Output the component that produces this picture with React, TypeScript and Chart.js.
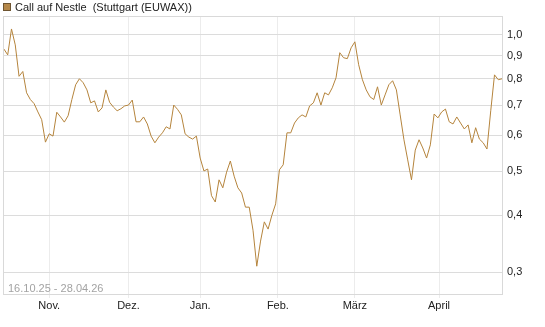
import React, { useEffect, useRef } from "react";
import { Chart, registerables } from "chart.js";

Chart.register(...registerables);

const title = "Call auf Nestle  (Stuttgart (EUWAX))";
const dateRange = "16.10.25 - 28.04.26";

// daily closing values (one per trading day, 16.10.25 – 28.04.26)
const prices: number[] = [
  0.93, 0.903, 1.03, 0.95, 0.81, 0.83, 0.745, 0.72, 0.705, 0.676,
  0.65, 0.58, 0.605, 0.598, 0.675, 0.659, 0.642, 0.663, 0.72, 0.776,
  0.8, 0.784, 0.756, 0.708, 0.715, 0.676, 0.69, 0.756, 0.71, 0.693,
  0.68, 0.687, 0.697, 0.7, 0.718, 0.643, 0.643, 0.659, 0.636, 0.598,
  0.578, 0.595, 0.608, 0.627, 0.62, 0.7, 0.685, 0.666, 0.605, 0.595,
  0.589, 0.598, 0.535, 0.501, 0.506, 0.442, 0.428, 0.479, 0.46, 0.498,
  0.527, 0.488, 0.46, 0.448, 0.417, 0.417, 0.371, 0.309, 0.351, 0.387,
  0.373, 0.4, 0.424, 0.504, 0.517, 0.608, 0.608, 0.639, 0.656, 0.666,
  0.659, 0.697, 0.708, 0.745, 0.7, 0.745, 0.737, 0.764, 0.804, 0.913,
  0.89, 0.886, 0.936, 0.965, 0.859, 0.796, 0.756, 0.73, 0.72, 0.768,
  0.7, 0.737, 0.776, 0.792, 0.756, 0.666, 0.587, 0.53, 0.479, 0.557,
  0.587, 0.563, 0.535, 0.572, 0.669, 0.656, 0.676, 0.686, 0.643, 0.636,
  0.659, 0.639, 0.62, 0.633, 0.578, 0.624, 0.589, 0.578, 0.56, 0.68,
  0.816, 0.796, 0.8,
];

const monthLabels = ["Nov.", "Dez.", "Jan.", "Feb.", "März", "April"];
const monthIndex = [12, 33, 52, 72.6, 93, 115.3];
const yTicks = [0.3, 0.4, 0.5, 0.6, 0.7, 0.8, 0.9, 1.0];

const FONT = "'Liberation Sans', Arial, sans-serif";
const LINE = "#b5843c";

export default function App() {
  const ref = useRef<HTMLCanvasElement | null>(null);

  useEffect(() => {
    if (!ref.current) return;
    const points = prices.map((v, i) => ({ x: i, y: v }));

    const overlay = {
      id: "overlay",
      afterDraw(chart: any) {
        const ctx = chart.ctx;
        const area = chart.chartArea;
        ctx.save();
        // legend
        ctx.fillStyle = "#b5884a";
        ctx.fillRect(3, 3, 8, 8);
        ctx.strokeStyle = "#6e5532";
        ctx.lineWidth = 1;
        ctx.strokeRect(3.5, 3.5, 7, 7);
        ctx.fillStyle = "#222";
        ctx.font = "11px " + FONT;
        ctx.textBaseline = "middle";
        ctx.textAlign = "left";
        ctx.fillText(title, 15, 7.5);
        // date range
        ctx.fillStyle = "#a3a3a3";
        ctx.font = "11px " + FONT;
        ctx.textBaseline = "alphabetic";
        ctx.fillText(dateRange, 8, area.bottom - 3);
        // frame
        ctx.strokeStyle = "#d9d9d9";
        ctx.strokeRect(area.left + 0.5, area.top + 0.5, area.right - area.left - 1, area.bottom - area.top - 1);
        ctx.restore();
      },
    };

    const chart = new Chart(ref.current, {
      type: "line",
      data: {
        datasets: [
          {
            label: title,
            data: points,
            borderColor: LINE,
            borderWidth: 1,
            pointRadius: 0,
            tension: 0,
            fill: false,
          },
        ],
      },
      options: {
        animation: false,
        responsive: false,
        maintainAspectRatio: false,
        layout: { padding: { left: 3, top: 16, right: 0, bottom: 0 } },
        plugins: { legend: { display: false }, tooltip: { enabled: false } },
        scales: {
          x: {
            type: "linear",
            min: -0.25,
            max: prices.length - 0.75,
            afterBuildTicks: (scale: any) => {
              scale.ticks = monthIndex.map((v) => ({ value: v }));
            },
            afterFit: (scale: any) => {
              scale.height = 32;
            },
            ticks: {
              autoSkip: false,
              maxRotation: 0,
              padding: 1,
              color: "#222",
              font: { family: FONT, size: 11 },
              callback: (_v: any, i: number) => monthLabels[i],
            },
            grid: { color: "#ececec", tickLength: 3, drawTicks: true },
            border: { display: false },
          },
          y: {
            type: "logarithmic",
            position: "right",
            min: 0.267,
            max: 1.1,
            afterBuildTicks: (scale: any) => {
              scale.ticks = yTicks.map((v) => ({ value: v }));
            },
            afterFit: (scale: any) => {
              scale.width = 42;
            },
            ticks: {
              padding: 4,
              color: "#222",
              font: { family: FONT, size: 11 },
              callback: (v: any) => Number(v).toFixed(1).replace(".", ","),
            },
            grid: { color: "#dcdcdc", drawTicks: false },
            border: { display: false },
          },
        },
      },
      plugins: [overlay],
    });
    return () => chart.destroy();
  }, []);

  return (
    <div style={{ position: "fixed", left: 0, top: 0, width: 545, height: 327, background: "#fff" }}>
      <canvas ref={ref} width={545} height={327} style={{ width: 545, height: 327 }} />
    </div>
  );
}
